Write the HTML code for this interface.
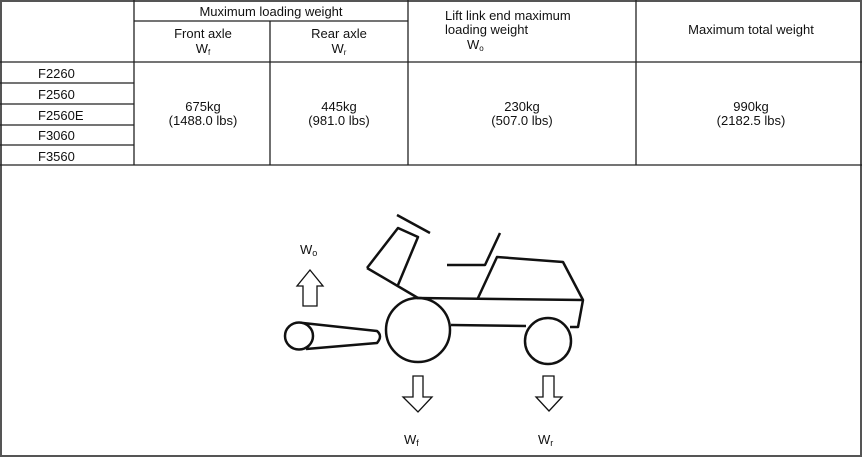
<!DOCTYPE html>
<html><head><meta charset="utf-8"><style>
html,body{margin:0;padding:0;background:#fff}
svg{display:block}
text{font-family:"Liberation Sans",sans-serif;fill:#111}
</style></head><body>
<svg width="862" height="457" viewBox="0 0 862 457" xmlns="http://www.w3.org/2000/svg">
<rect x="1" y="1" width="860" height="455" fill="#fff" stroke="#555" stroke-width="2"/>
<g stroke="#222" stroke-width="1.3" fill="none">
<line x1="134" y1="0" x2="134" y2="165"/>
<line x1="270" y1="21" x2="270" y2="165"/>
<line x1="408" y1="0" x2="408" y2="165"/>
<line x1="636" y1="0" x2="636" y2="165"/>
<line x1="134" y1="21" x2="408" y2="21"/>
<line x1="0" y1="62" x2="862" y2="62"/>
<line x1="0" y1="83" x2="134" y2="83"/>
<line x1="0" y1="104" x2="134" y2="104"/>
<line x1="0" y1="125" x2="134" y2="125"/>
<line x1="0" y1="145" x2="134" y2="145"/>
<line x1="0" y1="165" x2="862" y2="165"/>
</g>
<g font-size="13">
<text x="271" y="16" text-anchor="middle">Muximum loading weight</text>
<text x="203" y="38" text-anchor="middle">Front axle</text>
<text x="203" y="53" text-anchor="middle">W<tspan font-size="8" dy="2">f</tspan></text>
<text x="339" y="38" text-anchor="middle">Rear axle</text>
<text x="339" y="53" text-anchor="middle">W<tspan font-size="8" dy="2">r</tspan></text>
<text x="445" y="20">Lift link end maximum</text>
<text x="445" y="34">loading weight</text>
<text x="467" y="49">W<tspan font-size="8" dy="2">o</tspan></text>
<text x="751" y="34" text-anchor="middle">Maximum total weight</text>
<text x="38" y="78">F2260</text>
<text x="38" y="99">F2560</text>
<text x="38" y="120">F2560E</text>
<text x="38" y="140">F3060</text>
<text x="38" y="161">F3560</text>
<text x="203" y="111" text-anchor="middle">675kg</text>
<text x="203" y="125" text-anchor="middle">(1488.0 lbs)</text>
<text x="339" y="111" text-anchor="middle">445kg</text>
<text x="339" y="125" text-anchor="middle">(981.0 lbs)</text>
<text x="522" y="111" text-anchor="middle">230kg</text>
<text x="522" y="125" text-anchor="middle">(507.0 lbs)</text>
<text x="751" y="111" text-anchor="middle">990kg</text>
<text x="751" y="125" text-anchor="middle">(2182.5 lbs)</text>
</g>
<g stroke="#111" stroke-width="2.5" fill="none" stroke-linejoin="round">
<circle cx="418" cy="330" r="32"/>
<circle cx="548" cy="341" r="23"/>
<ellipse cx="299" cy="336" rx="14" ry="13.5"/>
<path d="M303 323 L377 331 Q383 336 377 343 L306 349"/>
<path d="M417 298 L583 300 L578 327 L570 327"/>
<line x1="451" y1="325" x2="526" y2="326"/>
<path d="M367 268 L398 228 L418 237 L398 285"/>
<line x1="367" y1="268" x2="418" y2="298"/>
<line x1="397" y1="215" x2="430" y2="233"/>
<path d="M447 265 L485 265 L500 233"/>
<path d="M478 298 L497 257 L563 262 L583 300"/>
</g>
<g stroke="#111" stroke-width="1.3" fill="#fff">
<path d="M310 270 L323 286 L317 286 L317 306 L303 306 L303 286 L297 286 Z"/>
<path d="M413 376 L423 376 L423 397 L432 397 L418 412 L403 397 L413 397 Z"/>
<path d="M543 376 L554 376 L554 397 L562 397 L549 411 L536 397 L543 397 Z"/>
</g>
<g font-size="13">
<text x="300" y="254">W<tspan font-size="9" dy="2">o</tspan></text>
<text x="404" y="444">W<tspan font-size="9" dy="2">f</tspan></text>
<text x="538" y="444">W<tspan font-size="9" dy="2">r</tspan></text>
</g>
</svg>
</body></html>
